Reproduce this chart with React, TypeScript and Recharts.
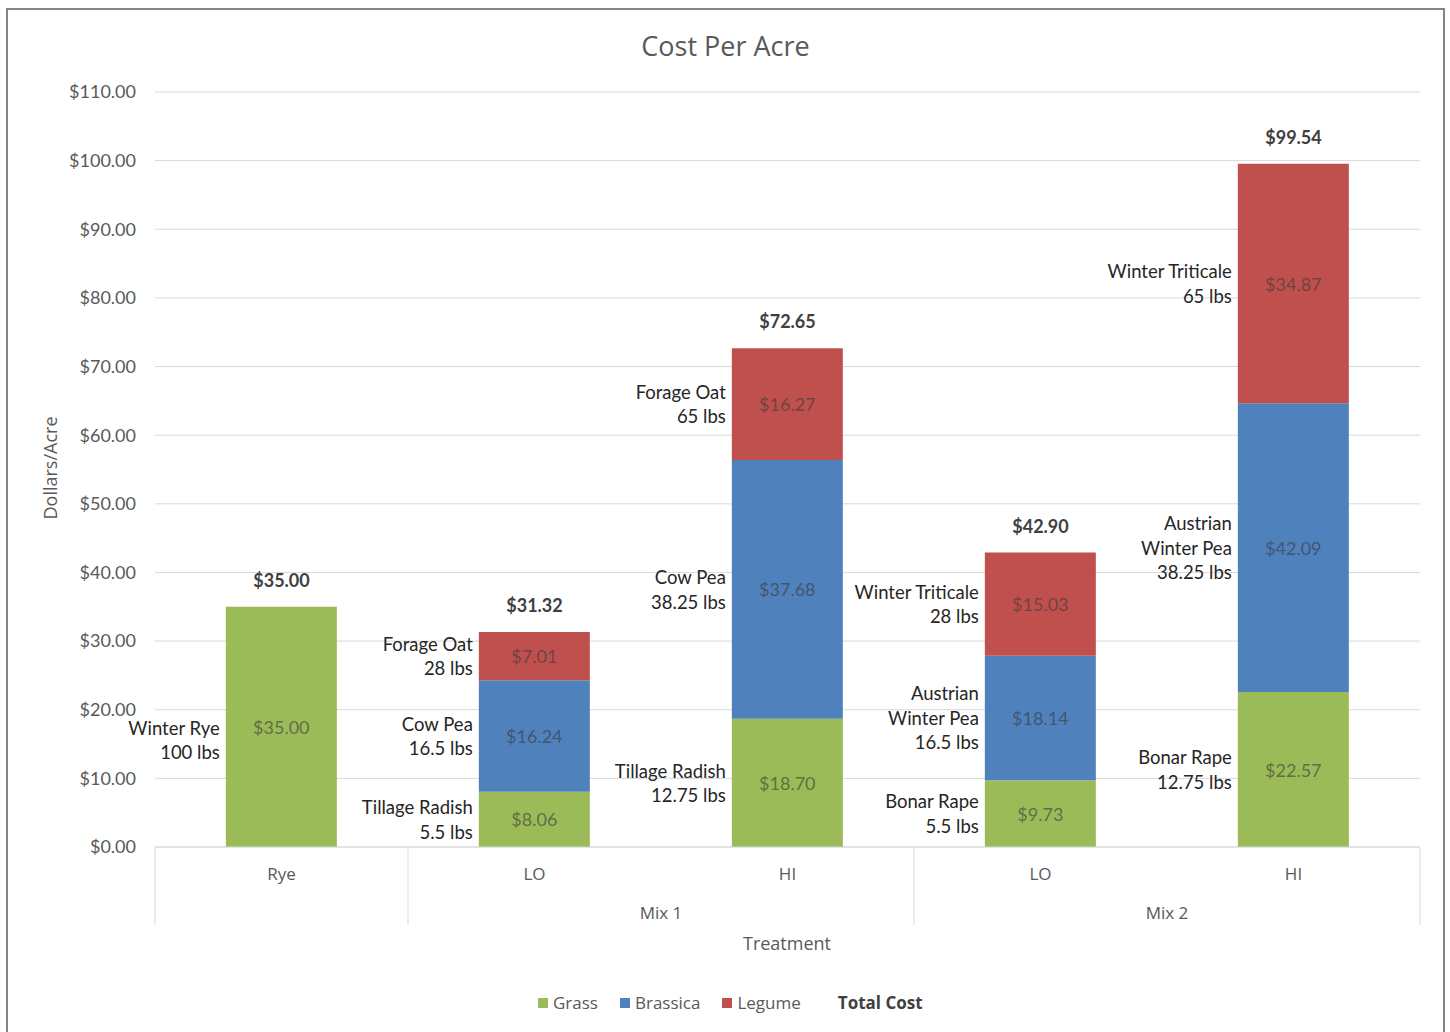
import React from "react";
import {
  ComposedChart,
  Bar,
  Line,
  XAxis,
  YAxis,
  CartesianGrid,
  LabelList,
} from "recharts";

// ---------- data ----------
const categories = ["Rye", "LO", "HI", "LO", "HI"];
const groups = ["", "Mix 1", "Mix 1", "Mix 2", "Mix 2"];
const grass = [35.0, 8.06, 18.7, 9.73, 22.57];
const brassica = [null, 16.24, 37.68, 18.14, 42.09];
const legume = [null, 7.01, 16.27, 15.03, 34.87];
const totals = [35.0, 31.32, 72.65, 42.9, 99.54];
const grassSeeds = [
  ["Winter Rye", "100 lbs"],
  ["Tillage Radish", "5.5 lbs"],
  ["Tillage Radish", "12.75 lbs"],
  ["Bonar Rape", "5.5 lbs"],
  ["Bonar Rape", "12.75 lbs"],
];
const brassicaSeeds = [
  [],
  ["Cow Pea", "16.5 lbs"],
  ["Cow Pea", "38.25 lbs"],
  ["Austrian", "Winter Pea", "16.5 lbs"],
  ["Austrian", "Winter Pea", "38.25 lbs"],
];
const legumeSeeds = [
  [],
  ["Forage Oat", "28 lbs"],
  ["Forage Oat", "65 lbs"],
  ["Winter Triticale", "28 lbs"],
  ["Winter Triticale", "65 lbs"],
];
const yTicks = [0, 10, 20, 30, 40, 50, 60, 70, 80, 90, 100, 110];
const seriesNames = ["Grass", "Brassica", "Legume"];
const seriesColors = ["#9BBB59", "#4F81BD", "#C0504D"];

const data = categories.map((c, i) => ({
  cat: c,
  group: groups[i],
  grass: grass[i],
  brassica: brassica[i],
  legume: legume[i],
  total: totals[i],
}));

// ---------- layout ----------
const W = 1450;
const H = 1032;
const PLOT_LEFT = 155;
const PLOT_RIGHT = 1420;
const PLOT_TOP = 92;
const PLOT_BOTTOM = 847;
const Y_AXIS_W = 80;
const X_AXIS_H = 90;
const Y_MAX = 110;
const BAND = (PLOT_RIGHT - PLOT_LEFT) / categories.length;
const GRID = "#d9d9d9";
const TXT = "#595959";
const NUM_FONT = "Lato, 'Open Sans', sans-serif";
const UI_FONT = "'Open Sans', Lato, sans-serif";
const CHAR_W = 9; // rough glyph width estimate for collision check

const fmt = (v: number) => `$${v.toFixed(2)}`;
const tickPixel = (v: number) => PLOT_BOTTOM - (v * (PLOT_BOTTOM - PLOT_TOP)) / Y_MAX;

function makeSegmentLabel(seeds: string[][]) {
  return (props: any) => {
    const vb = props.viewBox && props.viewBox.width !== undefined ? props.viewBox : props;
    const x = Number(vb.x);
    const y = Number(vb.y);
    const w = Number(vb.width);
    const h = Number(vb.height);
    const v = props.value;
    if (v === null || v === undefined || isNaN(x)) return null;
    const cx = x + w / 2;
    const cy = y + h / 2;
    const idx = Math.max(0, Math.min(categories.length - 1, Math.floor((cx - PLOT_LEFT) / BAND)));
    const lines = (seeds[idx] || []) as string[];
    const lh = 24.5;
    let startY = cy - ((lines.length - 1) * lh) / 2;
    // if the label reaches into the y-axis tick labels, push it below the nearest tick label
    const maxLen = lines.reduce((m, s) => Math.max(m, s.length), 0);
    const leftEdge = x - 6 - maxLen * CHAR_W;
    if (lines.length && leftEdge < PLOT_LEFT - 10) {
      for (const t of yTicks) {
        const ty = tickPixel(t);
        const endY = startY + (lines.length - 1) * lh;
        if (ty > startY - 18 && ty < endY + 18) {
          startY = ty + 18;
          break;
        }
      }
    }
    return (
      <g>
        <text
          x={cx}
          y={cy}
          textAnchor="middle"
          dominantBaseline="central"
          fontFamily={NUM_FONT}
          fontSize={18}
          fill="#3a3a3a"
          fillOpacity={0.62}
        >
          {fmt(Number(v))}
        </text>
        {lines.map((ln, k) => (
          <text
            key={k}
            x={x - 6}
            y={startY + k * lh}
            textAnchor="end"
            dominantBaseline="central"
            fontFamily={NUM_FONT}
            fontSize={18.5}
            fill="#262626"
          >
            {ln}
          </text>
        ))}
      </g>
    );
  };
}

const TotalLabel = (props: any) => {
  const vb = props.viewBox || {};
  const x = props.x !== undefined ? Number(props.x) : Number(vb.x);
  const y = props.y !== undefined ? Number(props.y) : Number(vb.y);
  if (isNaN(x) || isNaN(y)) return null;
  return (
    <text
      x={x}
      y={y - 27}
      textAnchor="middle"
      dominantBaseline="central"
      fontFamily={NUM_FONT}
      fontWeight="bold"
      fontSize={18}
      fill="#404040"
    >
      {fmt(Number(props.value))}
    </text>
  );
};

const CatTick = (props: any) => {
  const { x, payload } = props;
  const idx = Math.max(0, Math.min(categories.length - 1, Math.floor((x - PLOT_LEFT) / BAND)));
  const half = BAND / 2;
  const sepTop = PLOT_BOTTOM;
  const sepBottom = 925;
  const seps: number[] = [];
  if (idx === 0) seps.push(x - half, x + half);
  if (idx === 2 || idx === 4) seps.push(x + half);
  const grp = groups[idx];
  const showGroup = grp && (idx === 0 || groups[idx - 1] !== grp);
  return (
    <g>
      <text
        x={x}
        y={873}
        textAnchor="middle"
        dominantBaseline="central"
        fontFamily={UI_FONT}
        fontSize={17}
        fill={TXT}
      >
        {payload.value}
      </text>
      {showGroup ? (
        <text
          x={x + half}
          y={912}
          textAnchor="middle"
          dominantBaseline="central"
          fontFamily={UI_FONT}
          fontSize={17}
          fill={TXT}
        >
          {grp}
        </text>
      ) : null}
      {seps.map((sx, k) => (
        <line key={k} x1={sx} x2={sx} y1={sepTop} y2={sepBottom} stroke={GRID} strokeWidth={1} />
      ))}
    </g>
  );
};

export default function App() {
  return (
    <div style={{ position: "absolute", left: 0, top: 0, width: W, height: H, overflow: "hidden", background: "#fff" }}>
      <div
        style={{
          position: "absolute",
          left: 6,
          top: 8,
          width: 1439,
          height: 1100,
          border: "2px solid #858585",
          boxSizing: "border-box",
        }}
      />
      <div
        style={{
          position: "absolute",
          left: 0,
          top: 29,
          width: 1451,
          textAlign: "center",
          fontFamily: UI_FONT,
          fontSize: 27,
          color: TXT,
          lineHeight: "34px",
        }}
      >
        Cost Per Acre
      </div>
      <div
        style={{
          position: "absolute",
          left: 50,
          top: 468,
          transform: "translate(-50%, -50%) rotate(-90deg)",
          fontFamily: UI_FONT,
          fontSize: 18,
          color: TXT,
          whiteSpace: "nowrap",
        }}
      >
        Dollars/Acre
      </div>
      <div
        style={{
          position: "absolute",
          left: 787,
          top: 943,
          transform: "translate(-50%, -50%)",
          fontFamily: UI_FONT,
          fontSize: 18,
          color: TXT,
          whiteSpace: "nowrap",
        }}
      >
        Treatment
      </div>
      <div style={{ position: "absolute", left: 0, top: 0 }}>
        <ComposedChart
          width={W}
          height={H}
          data={data}
          margin={{
            top: PLOT_TOP,
            right: W - PLOT_RIGHT,
            left: PLOT_LEFT - Y_AXIS_W,
            bottom: H - PLOT_BOTTOM - X_AXIS_H,
          }}
          barCategoryGap="28%"
        >
          <CartesianGrid vertical={false} stroke={GRID} strokeWidth={1} />
          <XAxis
            dataKey="cat"
            height={X_AXIS_H}
            allowDuplicatedCategory={true}
            axisLine={{ stroke: GRID }}
            tickLine={false}
            tickSize={0}
            interval={0}
            tick={<CatTick />}
          />
          <YAxis
            width={Y_AXIS_W}
            domain={[0, Y_MAX]}
            ticks={yTicks}
            axisLine={false}
            tickLine={false}
            tickSize={0}
            tickMargin={19}
            tickFormatter={(v: number) => fmt(v)}
            tick={{ fill: TXT, fontSize: 18, fontFamily: NUM_FONT }}
            interval={0}
          />
          <Bar dataKey="grass" name={seriesNames[0]} stackId="s" fill={seriesColors[0]} isAnimationActive={false}>
            <LabelList dataKey="grass" content={makeSegmentLabel(grassSeeds)} />
          </Bar>
          <Bar dataKey="brassica" name={seriesNames[1]} stackId="s" fill={seriesColors[1]} isAnimationActive={false}>
            <LabelList dataKey="brassica" content={makeSegmentLabel(brassicaSeeds)} />
          </Bar>
          <Bar dataKey="legume" name={seriesNames[2]} stackId="s" fill={seriesColors[2]} isAnimationActive={false}>
            <LabelList dataKey="legume" content={makeSegmentLabel(legumeSeeds)} />
          </Bar>
          <Line
            dataKey="total"
            name="Total Cost"
            stroke="none"
            dot={false}
            activeDot={false}
            isAnimationActive={false}
          >
            <LabelList dataKey="total" content={TotalLabel} />
          </Line>
        </ComposedChart>
      </div>
      <div
        style={{
          position: "absolute",
          left: 538,
          top: 991,
          display: "flex",
          alignItems: "center",
          fontFamily: UI_FONT,
          fontSize: 17,
          color: TXT,
          lineHeight: "24px",
          whiteSpace: "nowrap",
        }}
      >
        {seriesNames.map((n, i) => (
          <span key={n} style={{ display: "flex", alignItems: "center", marginRight: 22 }}>
            <span style={{ display: "inline-block", width: 10, height: 10, background: seriesColors[i], marginRight: 5 }} />
            {n}
          </span>
        ))}
        <span style={{ fontWeight: "bold", marginLeft: 15, color: "#404040" }}>Total Cost</span>
      </div>
    </div>
  );
}
